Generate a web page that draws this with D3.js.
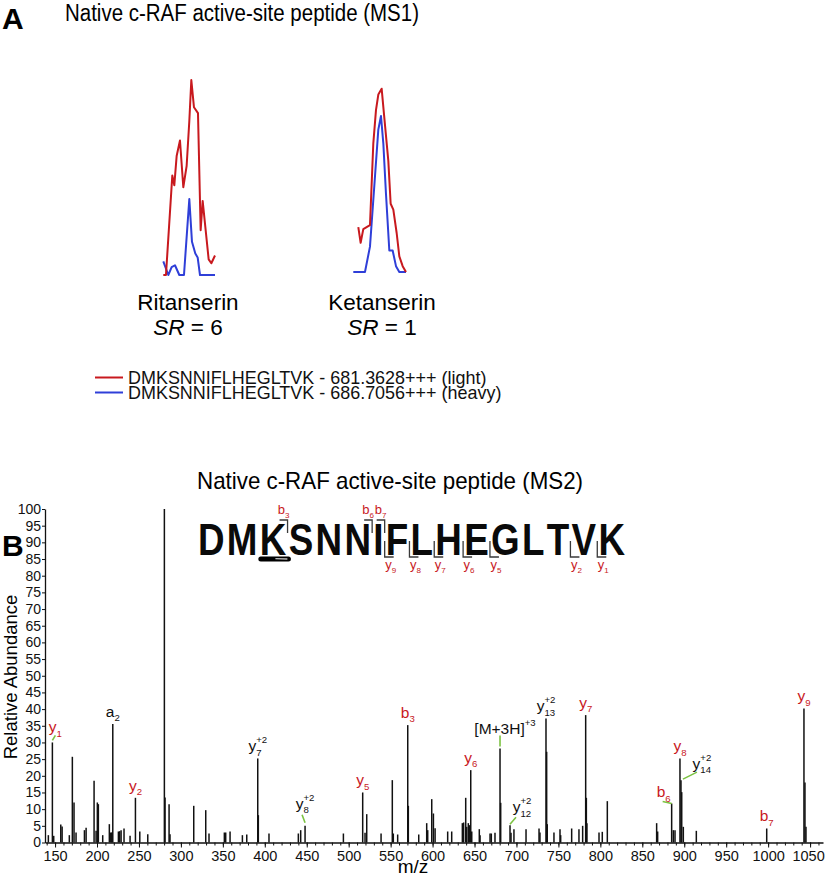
<!DOCTYPE html>
<html>
<head>
<meta charset="utf-8">
<script src="https://cdn.jsdelivr.net/npm/d3@7"></script>
<style>
body { margin: 0; background: #fff; }
svg { font-family: "Liberation Sans", Arial, Helvetica, sans-serif; }
</style>
</head>
<body>
<svg id="chart" width="825" height="877"></svg>
<script>
// ---- panel A : MS1 extracted ion chromatograms (arbitrary time units, % intensity)
const ritLightT = [0, 0.8, 2.7, 3.3, 4.0, 5.0, 6.0, 7.0, 7.8, 8.4, 9.2, 10.4, 11.2, 11.8, 13.6, 14.4, 15.5];
const ritLight  = [0, 0, 51, 46, 61, 69, 45, 56, 79, 100, 86, 83, 23, 38, 8, 6, 10];
const ritHeavyT = [0, 1.5, 2.5, 3.5, 4.8, 6.2, 7.8, 8.6, 9.6, 10.3, 11.0, 15.5];
const ritHeavy  = [7, 0, 4, 5, 0, 0, 39, 17, 11, 9, 0, 0];
const ketLightT = [1.5, 2.2, 3.0, 5.0, 6.0, 6.8, 7.5, 8.5, 9.2, 10.5, 11.2, 12.0, 13.0, 13.8, 14.8, 15.8];
const ketLight  = [23, 15, 22, 24, 66, 83, 91, 94, 81, 57, 35, 32, 20, 8, 3, 0];
const ketHeavyT = [0, 3.5, 5.0, 6.5, 7.5, 8.3, 9.0, 9.8, 10.8, 11.8, 12.8, 13.8, 15.8];
const ketHeavy  = [0, 0, 13, 49, 73, 80, 66, 40, 11, 11, 3, 0, 0];
const compounds = ['Ritanserin', 'Ketanserin'];
const ratios = [6, 1];
const legendLabels = ['DMKSNNIFLHEGLTVK - 681.3628+++ (light)', 'DMKSNNIFLHEGLTVK - 686.7056+++ (heavy)'];

// ---- panel B : MS2 spectrum
const peakMz = [142, 146.8, 148.4, 156.8, 158.4, 167, 170.6, 172.6, 175, 185, 187, 196.5, 198.9, 200.4, 201.6, 206.8,
  214.7, 216.4, 217.6, 218.8, 225.5, 227, 228.7, 232.2, 239.4, 245.8, 251, 260.5, 280.3, 281.1, 285.9, 287,
  315.3, 329.6, 333.5, 351.8, 353.4, 358.6, 373.3, 378.5, 391.6, 392.3, 405, 440, 442.8, 448, 493.7,
  516.7, 519.5, 521.5, 538.6, 552, 553.2, 558.4, 570.4, 571.1, 583.5, 593, 594.2, 599, 601, 603,
  618, 622.8, 635.5, 637, 639.5, 640.7, 642.6, 643.8, 645.5, 646.7, 655.7, 656.6, 668.5, 670, 674.4,
  680.4, 681.2, 692.3, 693.5, 697, 711.4, 726.9, 728, 735.2, 736, 736.7, 744.7, 751.9, 752.7, 765.8,
  774.5, 778.9, 782.5, 783.3, 784, 798.4, 802.3, 808.3, 867.1, 868.3, 885, 887, 889, 894.9, 896.1, 897,
  898.9, 914.4, 998.3, 1042.7, 1043.9, 1045.1];
const peakAb = [2.2, 30, 2, 5.4, 4.8, 2.2, 25.7, 12, 3, 3.7, 4.4, 18.5, 3.5, 12, 11.5, 2.2,
  5.5, 3, 3, 35.5, 3.3, 3.4, 3.7, 4.2, 2, 13.4, 3.3, 2.5, 100, 13.5, 11.5, 2.5,
  11, 9.7, 2.7, 3, 3, 3.3, 2.2, 2.4, 25.2, 8.2, 2.7, 2.7, 3.7, 5, 2.7,
  15, 2.9, 8.5, 2.7, 18.7, 2.7, 2.4, 35.2, 11, 2.4, 5.8, 3.7, 13, 8.7, 4.3,
  3.3, 3.3, 5.8, 6, 13.4, 4.7, 5.8, 5.2, 21.7, 3.3, 4, 2.2, 2.7, 2.7, 2.9,
  28.2, 11.9, 5.2, 2.9, 4, 4, 4.2, 3, 37.2, 27.2, 5.5, 3, 4, 2.2, 4.2,
  4, 5, 38.2, 13.4, 5.8, 3, 3.2, 12.4, 5.8, 3.3, 11.7, 3.7, 3.7, 25.2, 18.7, 15.1,
  4.7, 3.5, 4.2, 40.2, 18, 4.7];

// annotated ions
const annMain = ['y', 'a', 'y', 'y', 'y', 'y', 'b', '[M+3H]', 'y', 'y', 'y', 'y', 'b', 'y', 'y', 'b', 'y'];
const annSub  = ['1', '2', '2', '7', '8', '5', '3', '', '6', '12', '13', '7', '6', '8', '14', '7', '9'];
const annSup  = ['', '', '', '+2', '+2', '', '', '+3', '', '+2', '+2', '', '', '', '+2', '', ''];
const annMz   = [146.8, 218.8, 245.8, 391.6, 448, 516.7, 570.4, 680.4, 645.5, 692.3, 735.2, 782.5, 885, 894.9, 896.1, 998.3, 1042.7];

const peptide = 'DMKSNNIFLHEGLTVK';
const bSeen = [3, 6, 7];
const ySeen = [9, 8, 7, 6, 5, 2, 1];
const modSite = 2; // probe-labelled lysine

const yTicks = d3.range(0, 101, 5);
const xTicks = d3.range(150, 1051, 50);

// ---------------------------------------------------------------
const svg = d3.select('#chart');
const red = '#c8191e', blue = '#2f3fd8', green = '#7cc242';

// squeeze a text to a given width (the original type is slightly condensed)
function fitWidth(sel, w) {
  sel.attr('textLength', w).attr('lengthAdjust', 'spacingAndGlyphs');
  return sel;
}

// panel letters & titles
svg.append('text').attr('x', 2).attr('y', 29).attr('font-size', 30).attr('font-weight', 'bold').text('A');
fitWidth(svg.append('text').attr('x', 65).attr('y', 21).attr('font-size', 23)
  .text('Native c-RAF active-site peptide (MS1)'), 354);
svg.append('text').attr('x', 2).attr('y', 556).attr('font-size', 30).attr('font-weight', 'bold').text('B');
fitWidth(svg.append('text').attr('x', 197).attr('y', 489).attr('font-size', 24)
  .text('Native c-RAF active-site peptide (MS2)'), 386);

// ---- panel A traces
const ritX = d3.scaleLinear().domain([0, 15.5]).range([163.3, 215]);
const ketX = d3.scaleLinear().domain([0, 15.8]).range([353.3, 406]);
const ritY = d3.scaleLinear().domain([0, 100]).range([275, 80]);
const ketY = d3.scaleLinear().domain([0, 100]).range([272, 77]);

const traces = [
  {t: ritHeavyT, v: ritHeavy, x: ritX, y: ritY, c: blue},
  {t: ritLightT, v: ritLight, x: ritX, y: ritY, c: red},
  {t: ketHeavyT, v: ketHeavy, x: ketX, y: ketY, c: blue},
  {t: ketLightT, v: ketLight, x: ketX, y: ketY, c: red}
];
traces.forEach(tr => {
  const line = d3.line().x(d => tr.x(d[0])).y(d => tr.y(d[1]));
  svg.append('path').attr('d', line(d3.zip(tr.t, tr.v)))
    .attr('fill', 'none').attr('stroke', tr.c).attr('stroke-width', 2).attr('stroke-linejoin', 'round');
});

// compound names
const nameX = [188, 382];
compounds.forEach((c, i) => {
  svg.append('text').attr('x', nameX[i]).attr('y', 310).attr('font-size', 22.5).attr('text-anchor', 'middle').text(c);
  const t = svg.append('text').attr('x', nameX[i]).attr('y', 335).attr('font-size', 22.5).attr('text-anchor', 'middle');
  t.append('tspan').attr('font-style', 'italic').text('SR');
  t.append('tspan').text(' = ' + ratios[i]);
});

// legend
legendLabels.forEach((l, i) => {
  const yy = 377.5 + i * 15;
  svg.append('line').attr('x1', 95).attr('x2', 123).attr('y1', yy).attr('y2', yy)
    .attr('stroke', i === 0 ? red : blue).attr('stroke-width', 2);
  const t = svg.append('text').attr('x', 128).attr('y', yy + 6.5).attr('font-size', 19).attr('fill', '#111').text(l);
  fitWidth(t, t.node().getComputedTextLength() * 0.945);
});

// ---- panel B spectrum
const x = d3.scaleLinear().domain([138, 1065.4]).range([45, 823]);
const y = d3.scaleLinear().domain([0, 100]).range([842.5, 509]);

svg.append('g').selectAll('line')
  .data(d3.zip(peakMz, peakAb))
  .join('line')
    .attr('x1', d => x(d[0])).attr('x2', d => x(d[0]))
    .attr('y1', y(0)).attr('y2', d => y(d[1]))
    .attr('stroke', '#111').attr('stroke-width', 1.5);

// axes
const xMinor = svg.append('g').attr('transform', `translate(0,${y(0)})`)
  .call(d3.axisBottom(x).tickValues(d3.range(140, 1061, 10)).tickSize(3).tickFormat(''));
xMinor.select('.domain').remove();
const xAxis = svg.append('g').attr('transform', `translate(0,${y(0)})`)
  .call(d3.axisBottom(x).tickValues(xTicks).tickSize(5).tickPadding(3).tickSizeOuter(0).tickFormat(d3.format('d')));
xAxis.selectAll('text').attr('font-size', 14.5).attr('fill', '#111').attr('font-family', null);
xAxis.selectAll('text').filter(d => d === 1050).attr('dx', -2);
const yAxis = svg.append('g').attr('transform', `translate(${x.range()[0]},0)`)
  .call(d3.axisLeft(y).tickValues(yTicks).tickSize(3).tickPadding(1).tickSizeOuter(0));
yAxis.selectAll('text').attr('font-size', 14).attr('fill', '#111').attr('font-family', null);
svg.selectAll('.domain').attr('stroke', '#111').attr('stroke-width', 1.3);
svg.selectAll('.tick line').attr('stroke', '#111');

svg.append('text').attr('transform', 'translate(16.5,677) rotate(-90)').attr('text-anchor', 'middle')
  .attr('font-size', 18.5).text('Relative Abundance');
svg.append('text').attr('x', 413).attr('y', 873).attr('text-anchor', 'middle').attr('font-size', 19).text('m/z');

// ion label: letter, subscript index, superscript charge
function ionLabel(g, main, sub, sup, color, fs) {
  const t = g.append('text').attr('font-size', fs).attr('fill', color).text(main);
  const w = t.node().getComputedTextLength();
  let w2 = 0;
  if (sub) {
    const s = t.append('tspan').attr('dy', fs * 0.28).attr('font-size', fs * 0.62).text(sub);
    w2 = s.node().getComputedTextLength();
  }
  if (sup) {
    const s = g.append('text').attr('x', w).attr('y', -fs * 0.52).attr('font-size', fs * 0.62).attr('fill', color).text(sup);
    w2 = Math.max(w2, s.node().getComputedTextLength());
  }
  return w + w2;
}

// label placement: dx of label centre, baseline above peak top, green leader (x0,y0,x1,y1 from peak top)
const annLayout = {
  'y1':  {dx: 3, up: 10, lead: [0, -2, 3, -7]},
  'y8+2': {dx: 0, up: 17, lead: [0, -3, -3, -11]},
  '[M+3H]+3': {dx: 5, up: 14, lead: [0, -2, 0, -13]},
  'y12+2': {dx: 12, up: 13, lead: [0, -1, 6, -8]},
  'b6': {dx: -8, up: 6, lead: [0, 0, -9, -2]},
  'y14+2': {dx: 21, up: 11, lead: [2, -1, 16, -8]}
};

annMz.forEach((m, i) => {
  const k = d3.minIndex(peakMz, v => Math.abs(v - m));
  const px = x(peakMz[k]), top = y(peakAb[k]);
  const key = annMain[i] + annSub[i] + annSup[i];
  const lay = annLayout[key] || {dx: 0, up: 7};
  const color = (annMain[i] === 'b' || annMain[i] === 'y') && !annSup[i] ? red : '#111';
  if (lay.lead) {
    svg.append('line').attr('x1', px + lay.lead[0]).attr('y1', top + lay.lead[1])
      .attr('x2', px + lay.lead[2]).attr('y2', top + lay.lead[3])
      .attr('stroke', green).attr('stroke-width', 1.6);
  }
  const g = svg.append('g');
  const w = ionLabel(g, annMain[i], annSub[i], annSup[i], color, 15.5);
  g.attr('transform', `translate(${px + lay.dx - w / 2},${top - lay.up})`);
});

// ---- peptide sequence with fragment brackets
const seqG = svg.append('g');
const seqFs = 40, seqSx = 0.92, seqLeft = 198, seqRight = 625, seqBase = 555;
const widths = peptide.split('').map(ch => {
  const t = seqG.append('text').attr('font-size', seqFs).attr('font-weight', 'bold').text(ch);
  const w = t.node().getComputedTextLength() * seqSx;
  t.remove();
  return w;
});
const gap = (seqRight - seqLeft - d3.sum(widths)) / (peptide.length - 1);
const starts = [];
widths.reduce((acc, w) => { starts.push(acc); return acc + w + gap; }, seqLeft);
peptide.split('').forEach((ch, i) => {
  seqG.append('text').attr('transform', `translate(${starts[i]},${seqBase}) scale(${seqSx},1.12)`)
    .attr('font-size', seqFs).attr('font-weight', 'bold').attr('fill', '#0a0a0a').text(ch);
});
const boundary = n => starts[n] - gap / 2;   // between residue n-1 and n

// modified lysine underline
const kx0 = starts[modSite] + 1, kx1 = starts[modSite] + widths[modSite] + 2;
seqG.append('line').attr('x1', kx0).attr('x2', kx1).attr('y1', 559).attr('y2', 559)
  .attr('stroke', '#000').attr('stroke-width', 5).attr('stroke-linecap', 'round');
seqG.append('line').attr('x1', kx1 - 13).attr('x2', kx1 - 1).attr('y1', 558.6).attr('y2', 559)
  .attr('stroke', '#bbb').attr('stroke-width', 1.3);

const bracketC = '#3a3a3a';
bSeen.forEach(n => {
  const bx = boundary(n);
  seqG.append('path').attr('d', `M${bx - 8},520 H${bx} V533`)
    .attr('fill', 'none').attr('stroke', bracketC).attr('stroke-width', 1.3);
  const g = seqG.append('g');
  const w = ionLabel(g, 'b', String(n), '', red, 13);
  g.attr('transform', `translate(${bx - 4 - w / 2},514)`);
});
ySeen.forEach(n => {
  const bx = boundary(peptide.length - n);
  seqG.append('path').attr('d', `M${bx},541 V557 H${bx + 9}`)
    .attr('fill', 'none').attr('stroke', bracketC).attr('stroke-width', 1.3);
  const g = seqG.append('g');
  const w = ionLabel(g, 'y', String(n), '', red, 13);
  g.attr('transform', `translate(${bx + 6 - w / 2},569)`);
});
</script>
</body>
</html>
